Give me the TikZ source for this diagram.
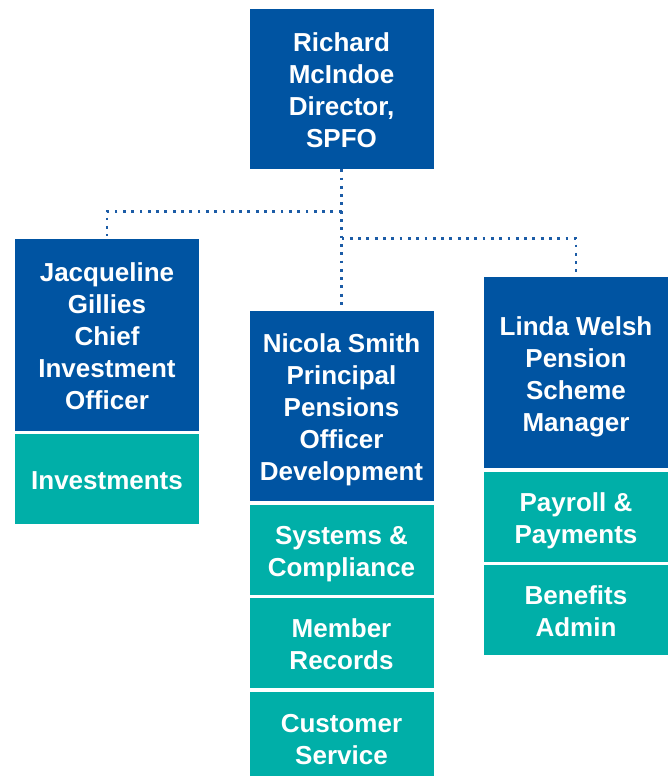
\documentclass[tikz,border=0pt]{standalone}
\usepackage{fontspec}
\setmainfont{Liberation Sans}
\definecolor{boxblue}{HTML}{0054A2}
\definecolor{boxteal}{HTML}{00AFA8}
\definecolor{dotblue}{HTML}{1C5CA6}
\newcommand{\bx}[1]{\rule{0pt}{27pt}#1\rule[-5.5pt]{0pt}{0pt}}
\begin{document}
\begin{tikzpicture}[x=1pt,y=1pt,
  base/.style={rectangle,inner sep=0pt,minimum width=184pt,text=white,align=center,
    font=\fontsize{26}{32}\selectfont\bfseries},
  bluebox/.style={base,fill=boxblue},
  tealbox/.style={base,fill=boxteal},
  dotline/.style={draw=dotblue,line width=2.8pt,line cap=butt,dash pattern=on 2.8pt off 5.5pt}]
\useasboundingbox (0,0) rectangle (671,-776);
\node[bluebox,minimum height=160pt] (top) at (341.5,-89) {\bx{Richard\\McIndoe\\Director,\\SPFO}};
\node[bluebox,minimum height=192pt] (left) at (107,-335) {\bx{Jacqueline\\Gillies\\Chief\\Investment\\Officer}};
\node[tealbox,minimum height=90pt] (inv) at (107,-479) {\bx{Investments}};
\node[bluebox,minimum height=190pt] (mid) at (341.5,-406) {\bx{Nicola Smith\\Principal\\Pensions\\Officer\\Development}};
\node[tealbox,minimum height=90pt] (sys) at (341.5,-550) {\bx{Systems \&\\Compliance}};
\node[tealbox,minimum height=90pt] (mem) at (341.5,-643) {\bx{Member\\Records}};
\node[tealbox,minimum height=92pt] (cust) at (341.5,-738) {\bx{Customer\\Service}};
\node[bluebox,minimum height=191pt] (right) at (576,-372.5) {\bx{Linda Welsh\\Pension\\Scheme\\Manager}};
\node[tealbox,minimum height=90pt] (pay) at (576,-517) {\bx{Payroll \&\\Payments}};
\node[tealbox,minimum height=90pt] (ben) at (576,-610) {\bx{Benefits\\Admin}};
\coordinate (jl) at (341.5,-211.3);
\coordinate (jr) at (341.5,-238.3);
\draw[dotline,shorten >=5pt] (top.south) -- (mid.north);
\draw[dotline,shorten >=3pt] (jl) -| (left.north);
\draw[dotline,shorten >=3pt] (jr) -| (right.north);
\end{tikzpicture}
\end{document}
